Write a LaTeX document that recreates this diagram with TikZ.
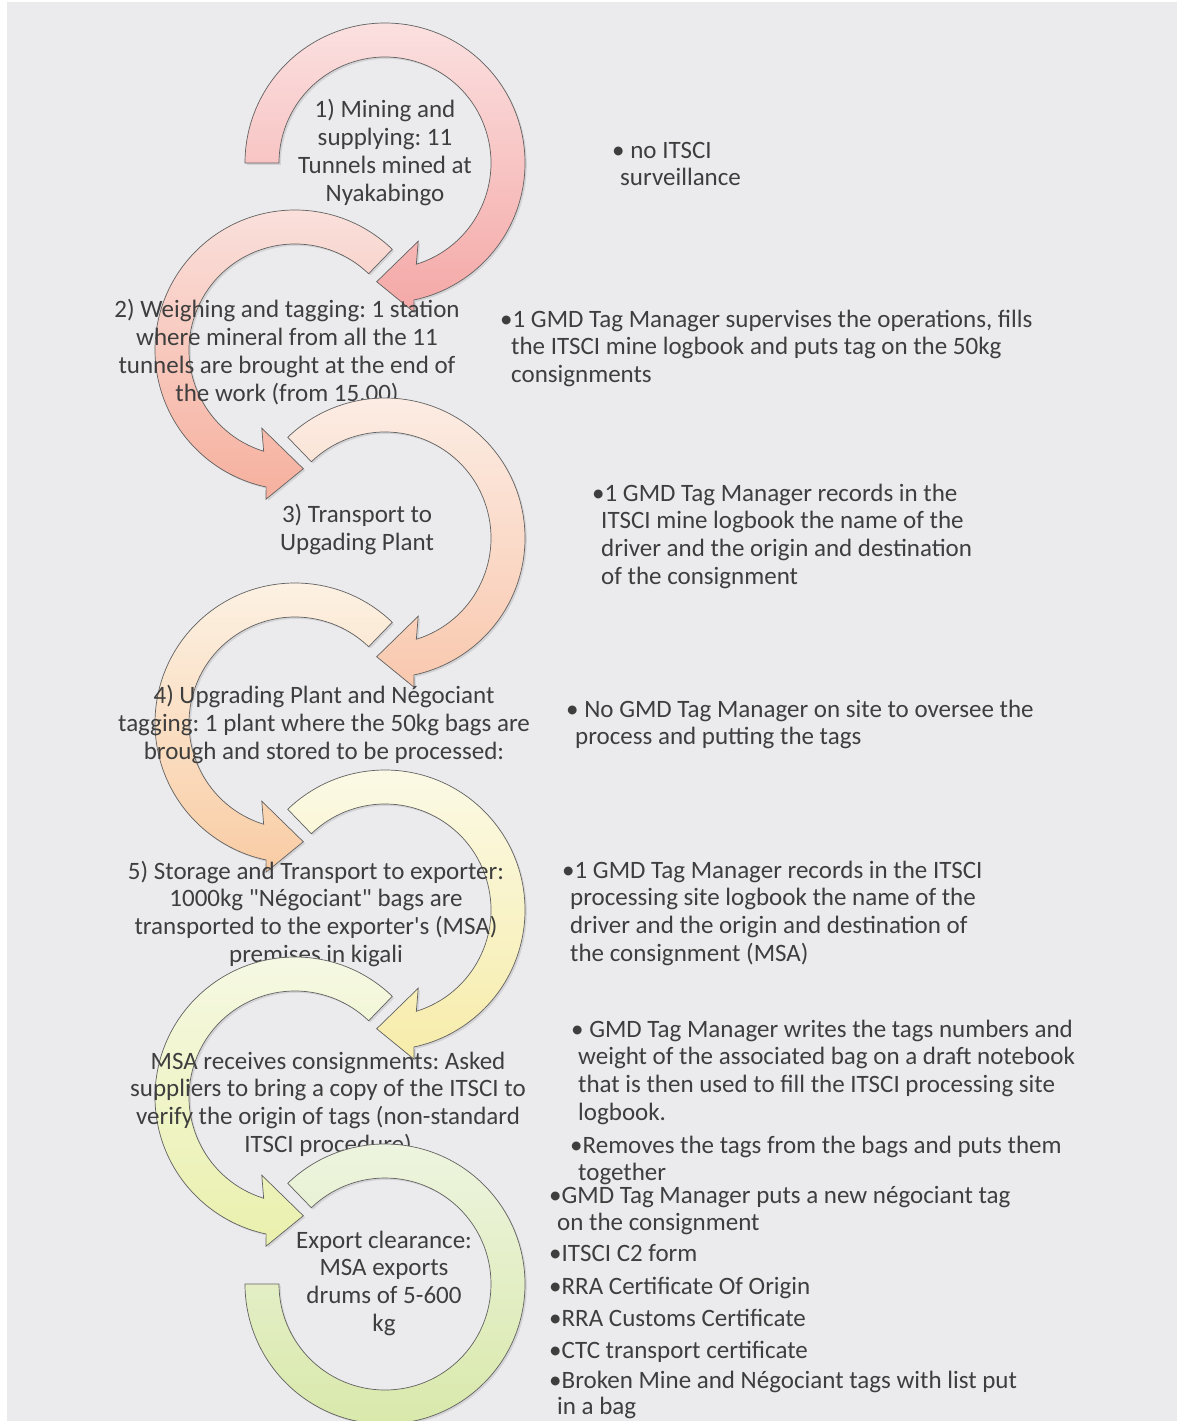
\documentclass[tikz,border=0pt]{standalone}
\usepackage{fontspec}
\setmainfont{Carlito}[Ligatures=TeXOff]
\usetikzlibrary{shadows}
\frenchspacing
\definecolor{bg}{RGB}{235,235,237}
\definecolor{txt}{RGB}{62,62,62}
\definecolor{aAt}{RGB}{251,224,224}\definecolor{aAb}{RGB}{244,168,166}
\definecolor{aBt}{RGB}{250,226,222}\definecolor{aBb}{RGB}{246,176,158}
\definecolor{aCt}{RGB}{252,238,230}\definecolor{aCb}{RGB}{249,200,174}
\definecolor{aDt}{RGB}{252,243,230}\definecolor{aDb}{RGB}{249,204,164}
\definecolor{aEt}{RGB}{251,250,232}\definecolor{aEb}{RGB}{247,236,170}
\definecolor{aFt}{RGB}{246,249,230}\definecolor{aFb}{RGB}{234,240,172}
\definecolor{aGt}{RGB}{238,245,226}\definecolor{aGb}{RGB}{216,232,168}
\tikzset{
  arr/.style={draw=black!62, line width=0.7pt, line join=miter,
    drop shadow={opacity=0.22, shadow xshift=1.8pt, shadow yshift=-1.8pt}},
  lbl/.style={text=txt, font=\fontsize{25}{27.7}\selectfont\frenchspacing, align=center, inner sep=0pt},
  note/.style={text=txt, font=\fontsize{25}{27.7}\selectfont\frenchspacing, align=left, inner sep=0pt, anchor=north west},
}
% clockwise arrow (right column): centre x, centre y, tail angle, top colour, bottom colour
\newcommand\cwarrow[5]{%
  \begin{scope}[shift={(#1,-#2)}]
    \path[arr, top color=#4, bottom color=#5]
      (#3:140) arc[start angle=#3, end angle=-78.1, radius=140]
      -- (-79:152) -- (-94:119) -- (-67:85) -- (-72.8:106)
      arc[start angle=-72.8, end angle=#3, radius=106] -- cycle;
  \end{scope}}
% counter-clockwise arrow (left column)
\newcommand\ccwarrow[5]{%
  \begin{scope}[shift={(#1,-#2)}]
    \path[arr, top color=#4, bottom color=#5]
      (#3:140) arc[start angle=#3, end angle=258.1, radius=140]
      -- (259:152) -- (274:119) -- (247:85) -- (252.8:106)
      arc[start angle=252.8, end angle=#3, radius=106] -- cycle;
  \end{scope}}
\begin{document}
\begin{tikzpicture}[x=1pt, y=1pt]
\useasboundingbox (0,0) rectangle (1178,-1421);
\fill[white] (0,0) rectangle (1178,-1421);
\fill[bg] (7,-2) rectangle (1177,-1421);

% 1
\cwarrow{385}{163}{180}{aAt}{aAb}
\node[lbl] (t1) at (385,-154) {\strut 1) Mining and\\supplying: 11\\Tunnels mined at\\Nyakabingo\strut};
% 2
\ccwarrow{295}{350}{46}{aBt}{aBb}
\node[lbl] (t2) at (287,-354) {\strut 2) Weighing and tagging: 1 station\\where mineral from all the 11\\tunnels are brought at the end of\\the work (from 15.00)\strut};
% 3
\cwarrow{385}{538}{134}{aCt}{aCb}
\node[lbl] (t3) at (357,-531) {\strut 3) Transport to\\Upgading Plant\strut};
% 4
\ccwarrow{295}{723}{46}{aDt}{aDb}
\node[lbl] (t4) at (324,-726) {\strut 4) Upgrading Plant and Négociant\\tagging: 1 plant where the 50kg bags are\\brough and stored to be processed:\strut};
% 5
\cwarrow{385}{910}{134}{aEt}{aEb}
\node[lbl] (t5) at (316,-915) {\strut 5) Storage and Transport to exporter:\\1000kg "Négociant" bags are\\transported to the exporter's (MSA)\\premises in kigali\strut};
% 6
\ccwarrow{295}{1097}{46}{aFt}{aFb}
\node[lbl] (t6) at (328,-1105) {\strut MSA receives consignments: Asked\\suppliers to bring a copy of the ITSCI to\\verify the origin of tags (non-standard\\ITSCI procedure)\strut};
% 7 (last, no head)
\begin{scope}[shift={(385,-1284)}]
  \path[arr, top color=aGt, bottom color=aGb]
    (134:140) arc[start angle=134, end angle=-180, radius=140]
    -- (-180:106) arc[start angle=-180, end angle=134, radius=106] -- cycle;
\end{scope}
\node[lbl] (t7) at (384,-1284) {\strut Export clearance:\\MSA exports\\drums of 5-600\\kg\strut};

% right-hand notes
\node[note] (r1) at (612,-138.6) {\strut• no ITSCI\\\hspace*{8pt}surveillance};
\node[note] (r2) at (500,-307.6) {\strut•1 GMD Tag Manager supervises the operations, fills\\\hspace*{11pt}the ITSCI mine logbook and puts tag on the 50kg\\\hspace*{11pt}consignments};
\node[note] (r3) at (592,-481.6) {\strut•1 GMD Tag Manager records in the\\\hspace*{9pt}ITSCI mine logbook the name of the\\\hspace*{9pt}driver and the origin and destination\\\hspace*{9pt}of the consignment};
\node[note] (r4) at (566,-697.6) {\strut• No GMD Tag Manager on site to oversee the\\\hspace*{9pt}process and putting the tags};
\node[note] (r5) at (562,-858.6) {\strut•1 GMD Tag Manager records in the ITSCI\\\hspace*{8pt}processing site logbook the name of the\\\hspace*{8pt}driver and the origin and destination of\\\hspace*{8pt}the consignment (MSA)};
\node[note] (r6) at (571,-1017.6) {\strut• GMD Tag Manager writes the tags numbers and\\\hspace*{7pt}weight of the associated bag on a draft notebook\\\hspace*{7pt}that is then used to fill the ITSCI processing site\\\hspace*{7pt}logbook.};
\node[note] (r7) at (570,-1133.6) {\strut•Removes the tags from the bags and puts them\\\hspace*{8pt}together};
\node[note] (r8) at (549,-1183.6) {\strut•GMD Tag Manager puts a new négociant tag\\\hspace*{8pt}on the consignment};
\node[note] (r9) at (549,-1241.6) {\strut•ITSCI C2 form};
\node[note] (r10) at (549,-1274.6) {\strut•RRA Certificate Of Origin};
\node[note] (r11) at (549,-1306.6) {\strut•RRA Customs Certificate};
\node[note] (r12) at (549,-1338.6) {\strut•CTC transport certificate};
\node[note] (r13) at (549,-1369) {\strut•Broken Mine and Négociant tags with list put\\[-1.5pt]\hspace*{8pt}in a bag};
\end{tikzpicture}
\end{document}
